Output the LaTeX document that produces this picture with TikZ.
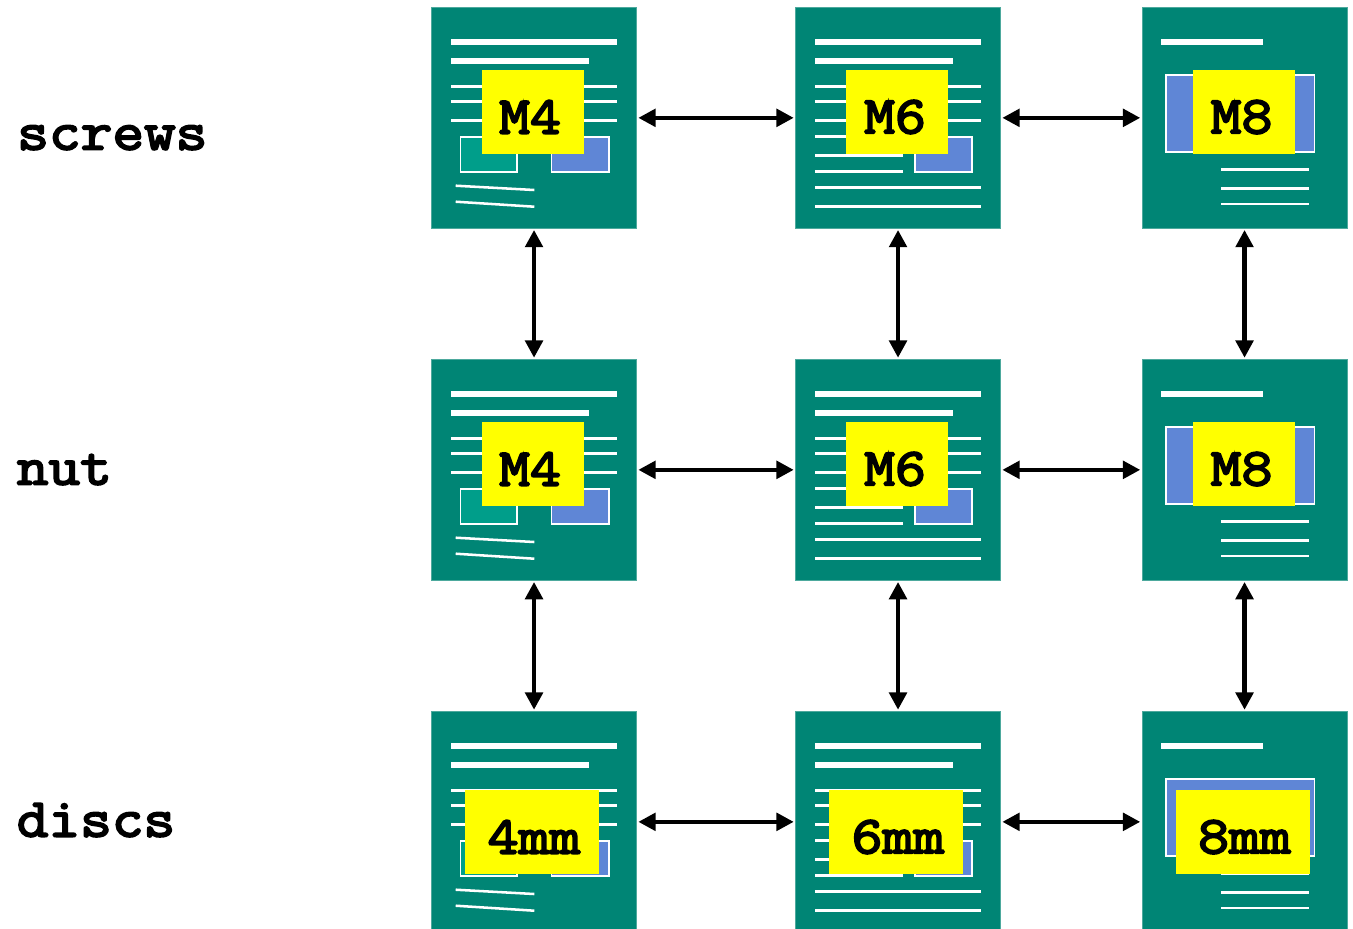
\documentclass[tikz,border=0pt]{standalone}
\usepackage{fontspec}
\usetikzlibrary{arrows.meta}
\newfontfamily\heavytt{Latin Modern Mono}[FakeBold=3.6,FakeStretch=1.13]
\definecolor{cardteal}{HTML}{008575}
\definecolor{cardedge}{HTML}{4DA99D}
\definecolor{boxteal}{HTML}{009E8A}
\definecolor{boxblue}{HTML}{5F86D6}
\definecolor{tagyellow}{RGB}{255,255,0}
\tikzset{
  card/.style={fill=cardteal,draw=cardedge,line width=0.4pt,minimum width=153.8bp,minimum height=165.5bp,inner sep=0pt,outer sep=0pt},
  thick line/.style={white,line width=4.1bp},
  thin line/.style={white,line width=1.9bp},
  pic box/.style={draw=white,line width=1.2bp},
  tag/.style={fill=tagyellow,inner sep=0pt,anchor=north west},
  tagtext/.style={font=\heavytt\fontsize{40}{40}\selectfont,inner sep=0pt,text=black},
  rowlabel/.style={font=\heavytt\fontsize{41}{41}\selectfont,inner sep=0pt,anchor=base west},
  link/.style={{Triangle[length=13bp,width=13bp]}-{Triangle[length=13bp,width=13bp]},line width=3.4bp,black,shorten >=1.3bp,shorten <=1.3bp}
}
\newcommand{\doclines}{%
  \draw[thick line] (19.5,34.5) -- (185.2,34.5);
  \draw[thick line] (19.5,53.5) -- (157.2,53.5);
  \foreach \yy in {78.8,94.2,113.2} {\draw[thin line] (19.5,\yy) -- (185.2,\yy);}
}
\newcommand{\cardA}{%
  \doclines
  \draw[pic box,fill=boxteal] (28.8,129.5) rectangle (85.7,164.5);
  \draw[pic box,fill=boxblue] (120,129.5) rectangle (177.2,164.5);
  \draw[thin line] (24.2,178.2) -- (102.8,182.5);
  \draw[thin line] (24.2,194.2) -- (102.8,199.2);
}
\newcommand{\cardB}{%
  \doclines
  \draw[thin line] (19.5,129.2) -- (107.5,129.2);
  \draw[thin line] (19.5,147.8) -- (107.5,147.8);
  \draw[thin line] (19.5,163.8) -- (107.5,163.8);
  \draw[thin line] (19.5,179.8) -- (185.2,179.8);
  \draw[thin line] (19.5,198.8) -- (185.2,198.8);
  \draw[pic box,fill=boxblue] (119.5,129.5) rectangle (176.5,164.5);
}
\newcommand{\cardC}{%
  \draw[thick line] (19.3,34.7) -- (121.3,34.7);
  \draw[pic box,fill=boxblue] (23.7,67.5) rectangle (172.6,144.5);
  \draw[thin line] (79,162.2) -- (167,162.2);
  \draw[thin line] (79,180.8) -- (167,180.8);
  \draw[thin line] (79,196.5) -- (167,196.5);
}
\begin{document}
\begin{tikzpicture}[x=0.75bp,y=-0.75bp]
\useasboundingbox (0,0) rectangle (1353,928);
% cards
\foreach \rr/\yy in {1/7.5,2/359.5,3/711.5} {
  \node[card,anchor=north west] (c\rr a) at (431.5,\yy) {};
  \node[card,anchor=north west] (c\rr b) at (795.5,\yy) {};
  \node[card,anchor=north west] (c\rr c) at (1142,\yy) {};
  \begin{scope}[shift={(431.5,\yy)}]\cardA\end{scope}
  \begin{scope}[shift={(795.5,\yy)}]\cardB\end{scope}
  \begin{scope}[shift={(1142,\yy)}]\cardC\end{scope}
}
% tags of the first two rows
\foreach \yy/\rr in {7.5/1,359.5/2} {
  \node[tag,minimum width=76.3bp,minimum height=62.8bp] (ya\rr) at (482,\yy+62.5) {};
  \node[tag,minimum width=76.3bp,minimum height=62.8bp] (yb\rr) at (846,\yy+62.5) {};
  \node[tag,minimum width=76.3bp,minimum height=62.8bp] (yc\rr) at (1193,\yy+62.5) {};
  \node[tagtext] (ta\rr) at (530,\yy+109.5) {M4};
  \node[tagtext] (tb\rr) at (895,\yy+109.5) {M6};
  \node[tagtext] (tc\rr) at (1241.5,\yy+109.5) {M8};
}
% tags of the third row
\node[tag,minimum width=100.5bp,minimum height=63bp] (ya3) at (465,789.5) {};
\node[tag,minimum width=100.5bp,minimum height=63bp] (yb3) at (829,789.5) {};
\node[tag,minimum width=100.5bp,minimum height=63bp] (yc3) at (1175.5,789.5) {};
\node[tagtext] (ta3) at (534,837) {4mm};
\node[tagtext] (tb3) at (898,837) {6mm};
\node[tagtext] (tc3) at (1244.5,837) {8mm};
% connectors
\foreach \rr in {1,2,3} {
  \draw[link] (c\rr a) -- (c\rr b);
  \draw[link] (c\rr b) -- (c\rr c);
}
\foreach \cc in {a,b,c} {
  \draw[link] (c1\cc) -- (c2\cc);
  \draw[link] (c2\cc) -- (c3\cc);
}
% row labels
\node[rowlabel] (lscrews) at (17,149.5) {screws};
\node[rowlabel] (lnut) at (16.5,484.5) {nut};
\node[rowlabel] (ldiscs) at (16.5,836.5) {discs};
\end{tikzpicture}
\end{document}
